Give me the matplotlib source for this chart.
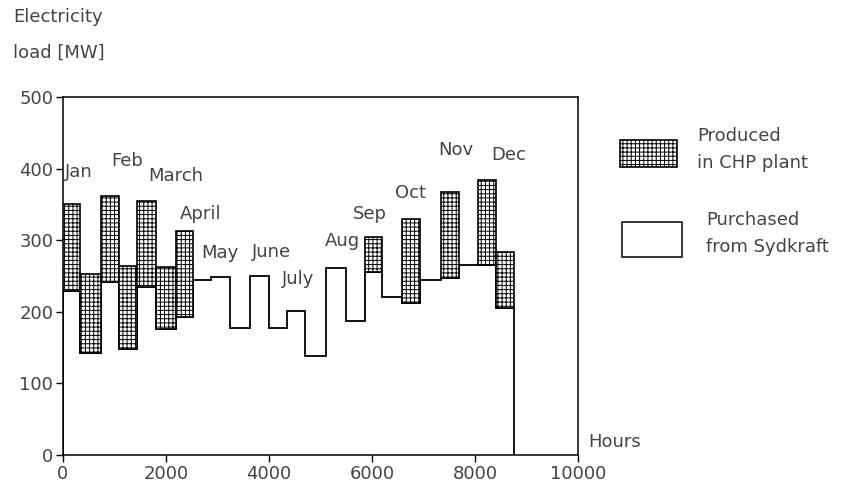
import matplotlib.pyplot as plt
from matplotlib.patches import Rectangle

# segment edges in hours (two sub-periods per month)
edges = [0, 330, 730, 1087, 1443, 1806, 2194, 2530, 2880, 3250, 3640, 4000,
         4355, 4705, 5100, 5490, 5864, 6200, 6588, 6932, 7333, 7683, 8064,
         8401, 8760]
# purchased from Sydkraft (MW) per segment
purchased = [229, 142, 242, 148, 235, 176, 193, 244, 248, 177, 250, 177,
             201, 138, 261, 187, 256, 220, 213, 244, 247, 266, 265, 206]
# total load (MW) per segment; above purchased = produced in CHP plant
total = [350, 253, 362, 264, 355, 262, 313, 244, 248, 177, 250, 177,
         201, 138, 261, 187, 305, 220, 330, 244, 368, 266, 384, 283]

months = ["Jan", "Feb", "March", "April", "May", "June", "July", "Aug",
          "Sep", "Oct", "Nov", "Dec"]
# where the month names are placed (hours, MW)
label_x = [40, 930, 1650, 2270, 2690, 3660, 4250, 5090, 5630, 6450, 7290, 8320]
label_y = [395, 411, 389, 337, 282, 284, 246, 299, 337, 366, 426, 419]

xticks = [0, 2000, 4000, 6000, 8000, 10000]
yticks = [0, 100, 200, 300, 400, 500]

plt.rcParams["font.family"] = ["DejaVu Sans"]
plt.rcParams["hatch.linewidth"] = 0.7
txt = "#444444"
fs = 13
hatch = "++++"

fig = plt.figure(figsize=(8.52, 4.9), dpi=100)
ax = fig.add_axes([0.0739, 0.0714, 0.6045, 0.7306])

# CHP boxes
for i in range(len(purchased)):
    h = total[i] - purchased[i]
    if h > 0:
        ax.bar(edges[i], h, width=edges[i + 1] - edges[i], bottom=purchased[i],
               align="edge", color="white", edgecolor="black", hatch=hatch,
               linewidth=1.2, zorder=3)

# purchased step line
ax.stairs(purchased, edges, baseline=0, fill=False, color="black",
          linewidth=1.3, zorder=2)

for name, x, y in zip(months, label_x, label_y):
    ax.text(x, y, name, fontsize=fs, color=txt, va="center", ha="left", zorder=5)

ax.text(10194, 18, "Hours", fontsize=fs, color=txt, va="center", ha="left",
        clip_on=False)

ax.set_xlim(0, 10000)
ax.set_ylim(0, 500)
ax.set_xticks(xticks)
ax.set_yticks(yticks)
ax.tick_params(direction="out", length=5, width=1, labelsize=fs,
               labelcolor=txt, pad=2)
for s in ax.spines.values():
    s.set_linewidth(1.1)

fig.text(0.0153, 0.965, "Electricity", fontsize=fs, color=txt, va="center")
fig.text(0.0153, 0.892, "load [MW]", fontsize=fs, color=txt, va="center")

# legend drawn by hand
fig.add_artist(Rectangle((0.7277, 0.659), 0.0669, 0.0551, transform=fig.transFigure,
                         facecolor="white", edgecolor="black", hatch=hatch,
                         linewidth=1.2))
fig.add_artist(Rectangle((0.730, 0.4755), 0.0704, 0.0714, transform=fig.transFigure,
                         facecolor="white", edgecolor="black", linewidth=1.1))
fig.text(0.818, 0.7224, "Produced", fontsize=fs, color=txt, va="center")
fig.text(0.818, 0.667, "in CHP plant", fontsize=fs, color=txt, va="center")
fig.text(0.8286, 0.551, "Purchased", fontsize=fs, color=txt, va="center")
fig.text(0.8286, 0.496, "from Sydkraft", fontsize=fs, color=txt, va="center")

fig.savefig("out.png", dpi=100)
